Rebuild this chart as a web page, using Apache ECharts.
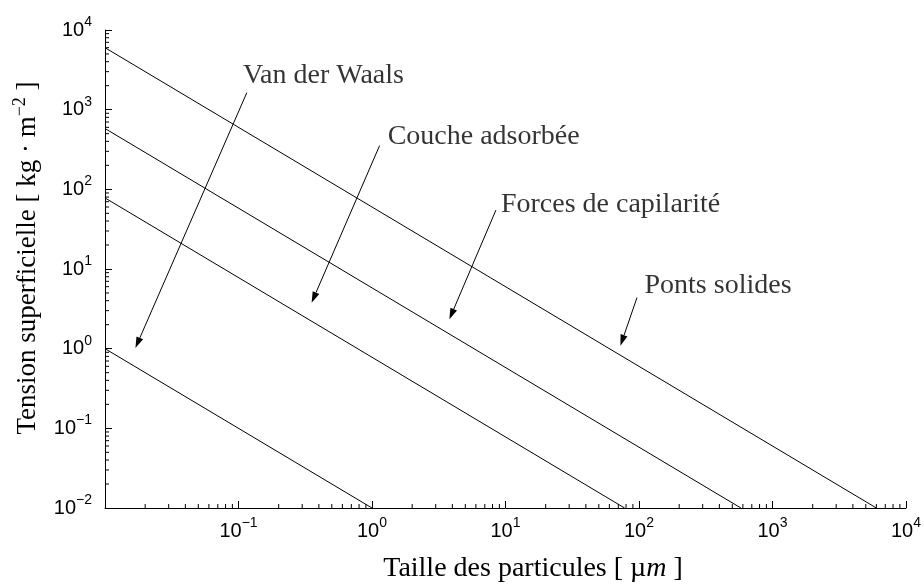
<!DOCTYPE html>
<html>
<head>
<meta charset="utf-8">
<script src="https://cdn.jsdelivr.net/npm/echarts@6/dist/echarts.min.js"></script>
<style>
  html, body { margin: 0; padding: 0; background: #fff; }
  #chart { width: 924px; height: 588px; }
</style>
</head>
<body>
<div id="chart"></div>
<script>
// Surface tension of particle bonds versus particle size (log-log).
const forceNames = ['Van der Waals', 'Couche adsorbée', 'Forces de capilarité', 'Ponts solides'];
// particle size (µm) at the two ends of each line
const particleSizes = [[0.01, 1], [0.01, 78], [0.01, 580], [0.01, 6000]];
// surface tension (kg·m⁻²) at the two ends of each line
const tensions = [[1, 0.01], [78, 0.01], [580, 0.01], [6000, 0.01]];
// annotation text anchors (left edge, vertical middle) and arrows
const labelAnchors = [[0.108, 2690], [1.31, 455], [9.24, 63.4], [110, 6.1]];
const arrowTails = [[0.1155, 1637], [1.14, 354], [8.48, 54.9], [96.6, 4.37]];
const arrowTips = [[0.0169, 1.02], [0.353, 3.78], [3.80, 2.34], [72.6, 1.09]];
// axis range and minor tick layout
const axisMin = 0.01, axisMax = 10000;
const minorMultipliers = [2, 3, 4, 5, 6, 7, 8, 9];
const minorDecades = [0.01, 0.1, 1, 10, 100, 1000];

const serif = '"Liberation Serif", "Times New Roman", serif';
const sans = '"Liberation Sans", Arial, sans-serif';

const minorValues = [];
minorDecades.forEach(d => minorMultipliers.forEach(m => minorValues.push(+(d * m).toPrecision(3))));

function powLabel(v) {
  const e = Math.round(Math.log10(v));
  return '{b|10}{s|' + (e < 0 ? '\u2212' + (-e) : String(e)) + '}';
}
const tickRich = {
  b: { fontFamily: sans, fontSize: 20, color: '#000', lineHeight: 30 },
  s: { fontFamily: sans, fontSize: 14, color: '#000', verticalAlign: 'top', lineHeight: 14 }
};

const chart = echarts.init(document.getElementById('chart'), null, { renderer: 'canvas' });

const lineSeries = forceNames.map((name, i) => ({
  name: name,
  type: 'line',
  data: particleSizes[i].map((x, j) => [x, tensions[i][j]]),
  symbol: 'none',
  lineStyle: { color: '#000', width: 1 },
  silent: true,
  z: 3
}));

chart.setOption({
  animation: false,
  backgroundColor: '#fff',
  grid: { left: 105, right: 16, top: 30, bottom: 76, containLabel: false },
  xAxis: {
    type: 'log', logBase: 10, min: axisMin, max: axisMax,
    name: '{n|Taille des particules [ \u00b5}{i|m}{n| ]}',
    nameLocation: 'middle', nameGap: 47,
    nameTextStyle: {
      padding: [0, 0, 0, 55],
      rich: {
        n: { fontFamily: serif, fontSize: 28, color: '#000' },
        i: { fontFamily: serif, fontSize: 28, fontStyle: 'italic', color: '#000' }
      }
    },
    axisLine: { lineStyle: { color: '#000', width: 1 } },
    axisTick: { inside: true, length: 7, lineStyle: { color: '#000' } },
    splitLine: { show: false },
    axisLabel: { formatter: powLabel, rich: tickRich, margin: 8, showMinLabel: false }
  },
  yAxis: {
    type: 'log', logBase: 10, min: axisMin, max: axisMax,
    name: '{n|Tension superficielle [ kg \u00b7 m}{s|\u22122}{n| ]}',
    nameLocation: 'middle', nameGap: 60, nameRotate: 90,
    nameTextStyle: {
      padding: [0, 0, 0, 22],
      rich: {
        n: { fontFamily: serif, fontSize: 27, color: '#000', lineHeight: 34 },
        s: { fontFamily: serif, fontSize: 18, color: '#000', verticalAlign: 'top', lineHeight: 20 }
      }
    },
    axisLine: { lineStyle: { color: '#000', width: 1 } },
    axisTick: { inside: true, length: 7, lineStyle: { color: '#000' } },
    splitLine: { show: false },
    axisLabel: { formatter: powLabel, rich: tickRich, margin: 13 }
  },
  series: lineSeries.concat([
    {
      // minor ticks along the bottom axis
      type: 'custom', silent: true, clip: false, z: 4,
      data: minorValues.map(v => [v, axisMin]),
      encode: { x: 0, y: 1 },
      renderItem: (params, api) => {
        const p = api.coord([api.value(0), api.value(1)]);
        return { type: 'line', shape: { x1: p[0], y1: p[1], x2: p[0], y2: p[1] - 4 },
                 style: { stroke: '#000', lineWidth: 1 } };
      }
    },
    {
      // minor ticks along the left axis
      type: 'custom', silent: true, clip: false, z: 4,
      data: minorValues.map(v => [axisMin, v]),
      encode: { x: 0, y: 1 },
      renderItem: (params, api) => {
        const p = api.coord([api.value(0), api.value(1)]);
        return { type: 'line', shape: { x1: p[0], y1: p[1], x2: p[0] + 4, y2: p[1] },
                 style: { stroke: '#000', lineWidth: 1 } };
      }
    },
    {
      // arrows pointing from each caption to its line
      type: 'custom', silent: true, clip: false, z: 5,
      data: arrowTails.map((t, i) => [t[0], t[1], arrowTips[i][0], arrowTips[i][1]]),
      encode: { x: [0, 2], y: [1, 3] },
      renderItem: (params, api) => {
        const a = api.coord([api.value(0), api.value(1)]);
        const b = api.coord([api.value(2), api.value(3)]);
        const dx = b[0] - a[0], dy = b[1] - a[1];
        const len = Math.hypot(dx, dy), ux = dx / len, uy = dy / len;
        const hl = 11, hw = 3.6;
        const base = [b[0] - ux * hl, b[1] - uy * hl];
        return {
          type: 'group',
          children: [
            { type: 'line', shape: { x1: a[0], y1: a[1], x2: base[0], y2: base[1] },
              style: { stroke: '#000', lineWidth: 1 } },
            { type: 'polygon',
              shape: { points: [b, [base[0] - uy * hw, base[1] + ux * hw], [base[0] + uy * hw, base[1] - ux * hw]] },
              style: { fill: '#000' } }
          ]
        };
      }
    },
    {
      // captions
      type: 'scatter', silent: true, z: 6,
      symbolSize: 0,
      data: labelAnchors.map((p, i) => ({ value: p, name: forceNames[i] })),
      label: {
        show: true, position: 'right', distance: 0, formatter: '{b}',
        fontFamily: serif, fontSize: 28, color: '#000'
      }
    }
  ])
});
</script>
</body>
</html>
